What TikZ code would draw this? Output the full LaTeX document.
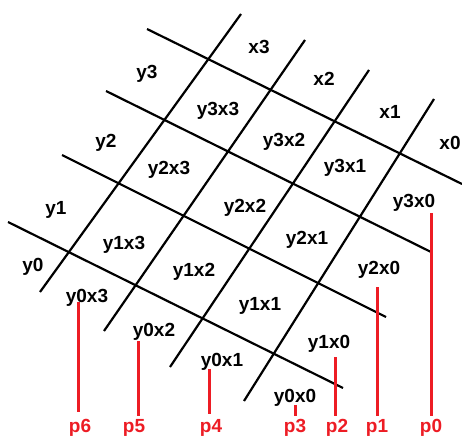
\documentclass[tikz,border=0pt]{standalone}
\usepackage{fontspec}
\setmainfont{Liberation Sans}
\definecolor{pred}{RGB}{237,28,36}
\begin{document}
\begin{tikzpicture}[x=1pt,y=-1pt,
  gridline/.style={line width=2.2pt, draw=black},
  redline/.style={line width=3pt, draw=pred},
  lbl/.style={font=\fontsize{19}{21}\selectfont\bfseries, inner sep=0pt, anchor=base},
  plbl/.style={lbl, text=pred}]
\useasboundingbox (0,0) rectangle (462,438);
% grid line end points
\coordinate (r1a) at (147,29);  \coordinate (r1b) at (462,184);
\coordinate (r2a) at (106,91);  \coordinate (r2b) at (431,252);
\coordinate (r3a) at (62,155);  \coordinate (r3b) at (386,317);
\coordinate (r4a) at (8,222);   \coordinate (r4b) at (343,388);
\coordinate (cAa) at (241,14);  \coordinate (cAb) at (40,292);
\coordinate (cBa) at (305,40);  \coordinate (cBb) at (104,331);
\coordinate (cCa) at (369,70);  \coordinate (cCb) at (170,367);
\coordinate (cDa) at (434,99);  \coordinate (cDb) at (244,401);
\draw[gridline] (r1a) -- (r1b);
\draw[gridline] (r2a) -- (r2b);
\draw[gridline] (r3a) -- (r3b);
\draw[gridline] (r4a) -- (r4b);
\draw[gridline] (cAa) -- (cAb);
\draw[gridline] (cBa) -- (cBb);
\draw[gridline] (cCa) -- (cCb);
\draw[gridline] (cDa) -- (cDb);
% labels
\node[lbl] (ly3) at (147,79) {y3};
\node[lbl] (ly2) at (106,148) {y2};
\node[lbl] (ly1) at (56,214) {y1};
\node[lbl] (ly0) at (33,271) {y0};
\node[lbl] (lx3) at (259,54) {x3};
\node[lbl] (lx2) at (324,86) {x2};
\node[lbl] (lx1) at (390,119) {x1};
\node[lbl] (lx0) at (450,150) {x0};
\node[lbl] (c33) at (218,116) {y3x3};
\node[lbl] (c32) at (284,147) {y3x2};
\node[lbl] (c31) at (345,172) {y3x1};
\node[lbl] (c30) at (414,207) {y3x0};
\node[lbl] (c23) at (169,175) {y2x3};
\node[lbl] (c22) at (245,212) {y2x2};
\node[lbl] (c21) at (307,244) {y2x1};
\node[lbl] (c20) at (379,274) {y2x0};
\node[lbl] (c13) at (124,249) {y1x3};
\node[lbl] (c12) at (194,276) {y1x2};
\node[lbl] (c11) at (260,310) {y1x1};
\node[lbl] (c10) at (329,348) {y1x0};
\node[lbl] (c03) at (87,302) {y0x3};
\node[lbl] (c02) at (154,336) {y0x2};
\node[lbl] (c01) at (222,366) {y0x1};
\node[lbl] (c00) at (295,402) {y0x0};
% p labels
\node[plbl] (p0) at (431,432) {p0};
\node[plbl] (p1) at (377,432) {p1};
\node[plbl] (p2) at (337,432) {p2};
\node[plbl] (p3) at (295,432) {p3};
\node[plbl] (p4) at (211,432) {p4};
\node[plbl] (p5) at (134,432) {p5};
\node[plbl] (p6) at (80,432) {p6};
% red connectors
\coordinate (t0) at (431,213); \coordinate (b0) at (431,416);
\coordinate (t1) at (377,287); \coordinate (b1) at (377,416);
\coordinate (t2) at (335,357); \coordinate (b2) at (335,416);
\coordinate (t3) at (295,405); \coordinate (b3) at (295,416);
\coordinate (t4) at (209,369); \coordinate (b4) at (209,414);
\coordinate (t5) at (138,341); \coordinate (b5) at (138,416);
\coordinate (t6) at (78,302);  \coordinate (b6) at (78,412);
\draw[redline] (t0) -- (b0);
\draw[redline] (t1) -- (b1);
\draw[redline] (t2) -- (b2);
\draw[redline] (t3) -- (b3);
\draw[redline] (t4) -- (b4);
\draw[redline] (t5) -- (b5);
\draw[redline] (t6) -- (b6);
\end{tikzpicture}
\end{document}
